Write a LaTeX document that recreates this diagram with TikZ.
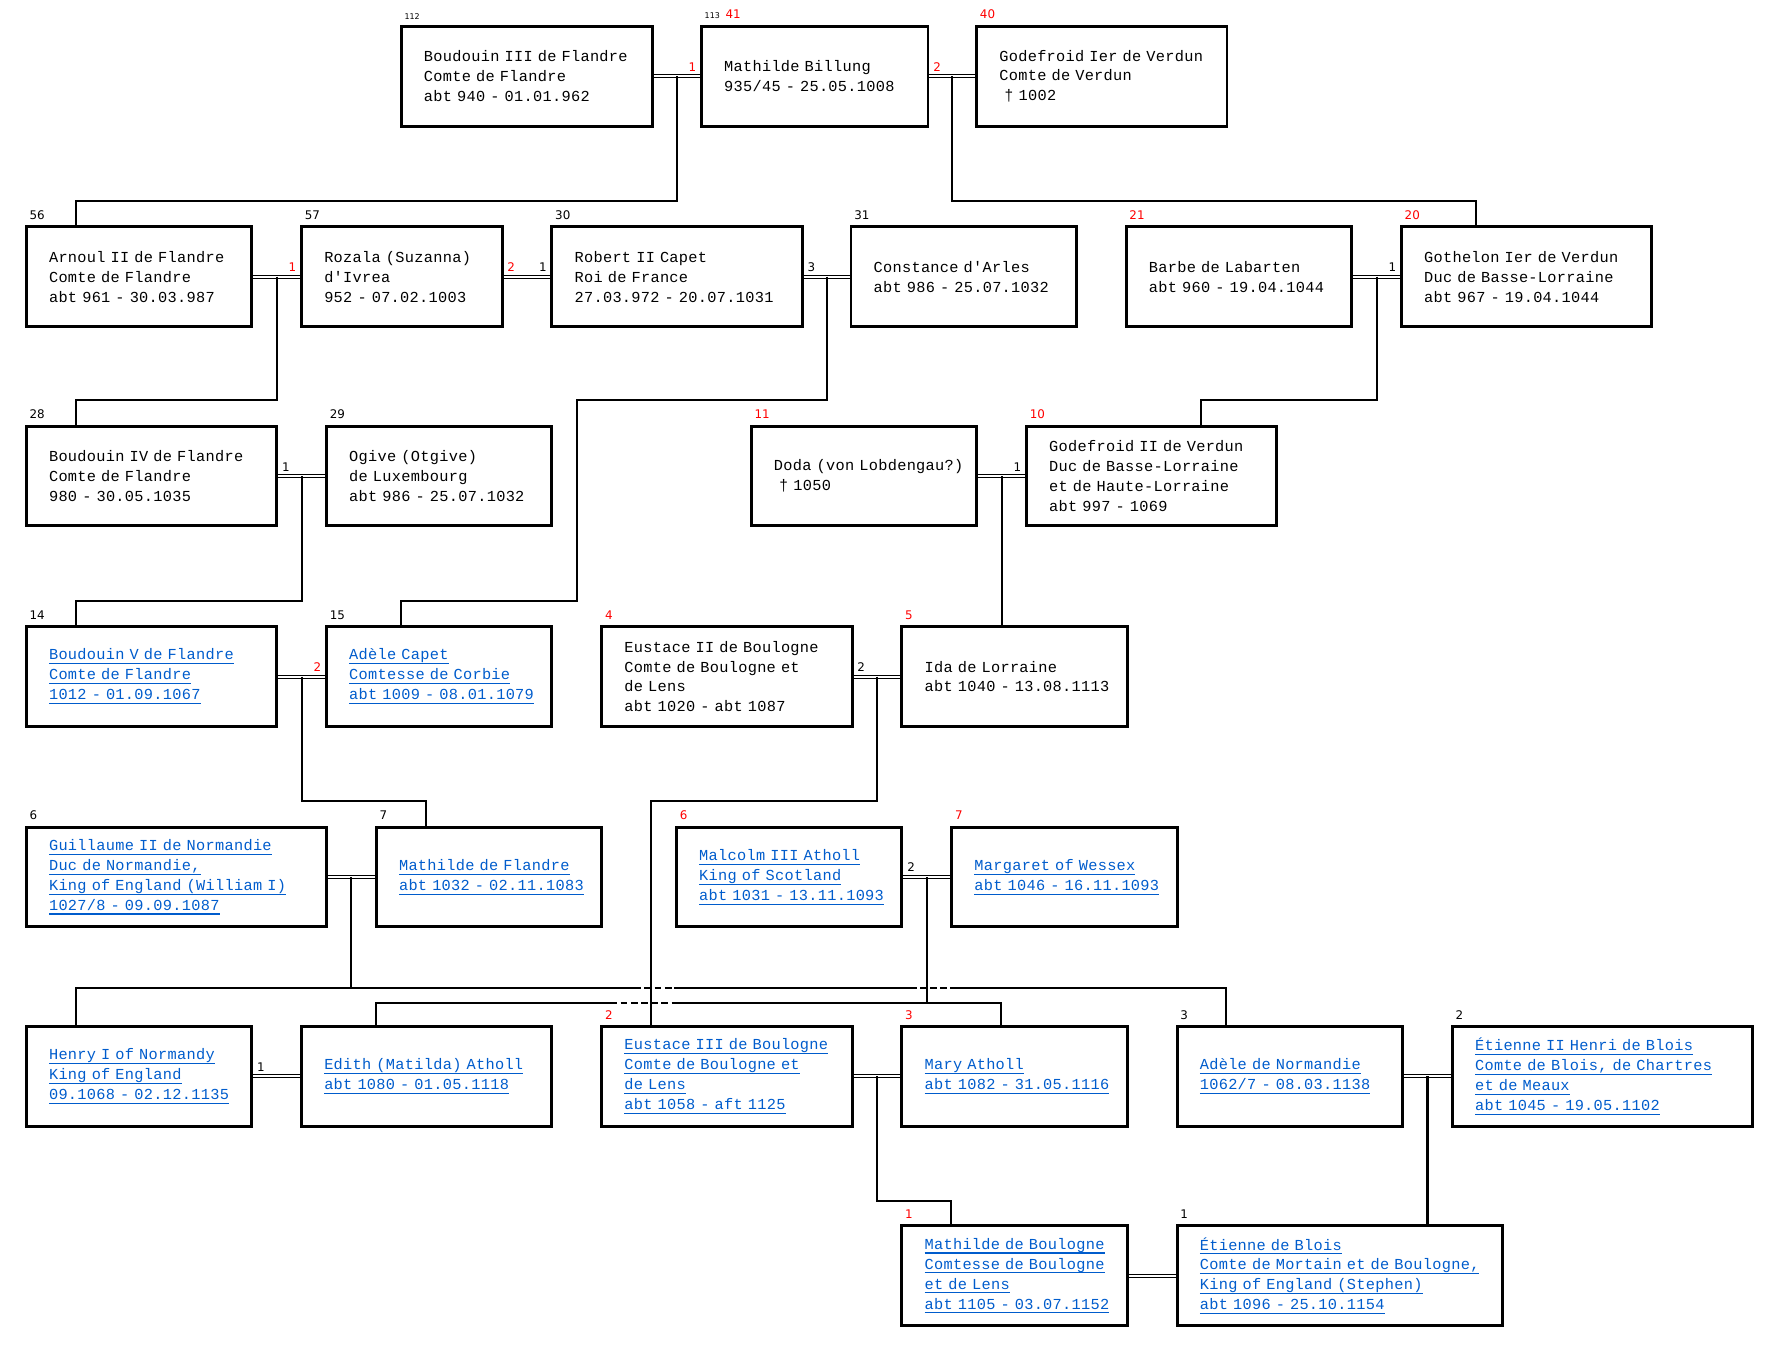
\documentclass[tikz,border=0pt]{standalone}
\usepackage{fontspec}
\newfontfamily\boxfont{Liberation Mono}[Ligatures=TeXOff, LetterSpace=2]
\newfontfamily\numfont{DejaVu Sans}
\definecolor{linkblue}{RGB}{0,92,204}
\newsavebox{\linkbox}
\newcommand{\plink}[1]{\mbox{\color{linkblue}\sbox{\linkbox}{#1}\rlap{\usebox{\linkbox}}\rule[-3.8pt]{\wd\linkbox}{1pt}}}

\begin{document}
\begin{tikzpicture}[x=1pt, y=-1pt,
    pbox/.style={draw, line width=2.6pt, anchor=north west, minimum height=88pt,
        inner xsep=20pt, inner ysep=0pt, text width=#1, align=left,
        font=\boxfont\fontsize{13.5}{17.6}\selectfont},
    num/.style={inner sep=0pt, font=\numfont\fontsize{10.5}{10.5}\selectfont},
    tag/.style={num, anchor=south west, xshift=4pt, yshift=5pt},
    rtag/.style={tag, text=red},
    lnum/.style={num, anchor=south west, xshift=3pt, yshift=4pt},
    rnum/.style={num, anchor=south east, xshift=-3pt, yshift=4pt},
    marriage/.style={double, double distance=1.8pt, line width=0.9pt},
    descent/.style={line width=1.8pt},
    hop/.style={descent, dash pattern=on 6pt off 3pt,
        preaction={draw=white, solid, line width=3.5pt}}]
    \useasboundingbox (0,0) rectangle (1568,1192);

    % 1. Thế hệ 1
    \node[pbox=182pt, label={[tag]north west:{\fontsize{7}{7}\selectfont 112}}] (boud3) at (353,22)
        {\mbox{Boudouin III de Flandre}\\Comte de Flandre\\abt 940 - 01.01.962};
    \node[pbox=160pt, label={[tag]north west:{{\fontsize{7}{7}\selectfont 113}\hspace{5pt}\textcolor{red}{41}}}] (mathb) at (618,22)
        {Mathilde Billung\\935/45 - 25.05.1008};
    \node[pbox=181pt, label={[rtag]north west:40}] (godf1) at (861,22)
        {\mbox{Godefroid Ier de Verdun}\\Comte de Verdun\\~† 1002};

    % 2. Thế hệ 2
    \node[pbox=159pt, label={[tag]north west:56}] (arnoul) at (22,199)
        {\mbox{Arnoul II de Flandre}\\Comte de Flandre\\abt 961 - 30.03.987};
    \node[pbox=137pt, label={[tag]north west:57}] (rozala) at (265,199)
        {Rozala (Suzanna)\\d'Ivrea\\952 - 07.02.1003};
    \node[pbox=181pt, label={[tag]north west:30}] (robert) at (486,199)
        {Robert II Capet\\Roi de France\\\mbox{27.03.972 - 20.07.1031}};
    \node[pbox=159pt, label={[tag]north west:31}] (constance) at (750,199)
        {Constance d'Arles\\\mbox{abt 986 - 25.07.1032}};
    \node[pbox=159pt, label={[rtag]north west:21}] (barbe) at (993,199)
        {Barbe de Labarten\\\mbox{abt 960 - 19.04.1044}};
    \node[pbox=181pt, label={[rtag]north west:20}] (gothelon) at (1236,199)
        {\mbox{Gothelon Ier de Verdun}\\\mbox{Duc de Basse-Lorraine}\\\mbox{abt 967 - 19.04.1044}};

    % 3. Thế hệ 3
    \node[pbox=181pt, label={[tag]north west:28}] (boud4) at (22,375)
        {\mbox{Boudouin IV de Flandre}\\Comte de Flandre\\980 - 30.05.1035};
    \node[pbox=159pt, label={[tag]north west:29}] (ogive) at (287,375)
        {Ogive (Otgive)\\de Luxembourg\\\mbox{abt 986 - 25.07.1032}};
    \node[pbox=159pt, label={[rtag]north west:11}] (doda) at (662,375)
        {\mbox{Doda (von Lobdengau?)}\\~† 1050};
    \node[pbox=181pt, label={[rtag]north west:10}] (godf2) at (905,375)
        {\mbox{Godefroid II de Verdun}\\\mbox{Duc de Basse-Lorraine}\\\mbox{et de Haute-Lorraine}\\abt 997 - 1069};

    % 4. Thế hệ 4
    \node[pbox=181pt, label={[tag]north west:14}] (boud5) at (22,552)
        {\plink{Boudouin V de Flandre}\\\plink{Comte de Flandre}\\\plink{1012 - 01.09.1067}};
    \node[pbox=159pt, label={[tag]north west:15}] (adelec) at (287,552)
        {\plink{Adèle Capet}\\\plink{Comtesse de Corbie}\\\plink{abt 1009 - 08.01.1079}};
    \node[pbox=181pt, label={[rtag]north west:4}] (eust2) at (530,552)
        {\mbox{Eustace II de Boulogne}\\\mbox{Comte de Boulogne et}\\de Lens\\\mbox{abt 1020 - abt 1087}};
    \node[pbox=159pt, label={[rtag]north west:5}] (ida) at (795,552)
        {Ida de Lorraine\\\mbox{abt 1040 - 13.08.1113}};

    % 5. Thế hệ 5
    \node[pbox=225pt, label={[tag]north west:6}] (guil) at (22,729)
        {\plink{Guillaume II de Normandie}\\\plink{Duc de Normandie,}\\\plink{King of England (William I)}\\\plink{1027/8 - 09.09.1087}};
    \node[pbox=159pt, label={[tag]north west:7}] (mathf) at (331,729)
        {\plink{Mathilde de Flandre}\\\plink{abt 1032 - 02.11.1083}};
    \node[pbox=159pt, label={[rtag]north west:6}] (malc) at (596,729)
        {\plink{Malcolm III Atholl}\\\plink{King of Scotland}\\\plink{abt 1031 - 13.11.1093}};
    \node[pbox=159pt, label={[rtag]north west:7}] (marg) at (839,729)
        {\plink{Margaret of Wessex}\\\plink{abt 1046 - 16.11.1093}};

    % 6. Thế hệ 6
    \node[pbox=159pt] (henry) at (22,905)
        {\plink{Henry I of Normandy}\\\plink{King of England}\\\plink{09.1068 - 02.12.1135}};
    \node[pbox=181pt] (edith) at (265,905)
        {\plink{Edith (Matilda) Atholl}\\\plink{abt 1080 - 01.05.1118}};
    \node[pbox=181pt, label={[rtag]north west:2}] (eust3) at (530,905)
        {\plink{Eustace III de Boulogne}\\\plink{Comte de Boulogne et}\\\plink{de Lens}\\\plink{abt 1058 - aft 1125}};
    \node[pbox=159pt, label={[rtag]north west:3}] (mary) at (795,905)
        {\plink{Mary Atholl}\\\plink{abt 1082 - 31.05.1116}};
    \node[pbox=159pt, label={[tag]north west:3}] (adelen) at (1038,905)
        {\plink{Adèle de Normandie}\\\plink{1062/7 - 08.03.1138}};
    \node[pbox=225pt, label={[tag]north west:2}] (etien2) at (1281,905)
        {\plink{Étienne II Henri de Blois}\\\plink{Comte de Blois, de Chartres}\\\plink{et de Meaux}\\\plink{abt 1045 - 19.05.1102}};

    % 7. Thế hệ 7
    \node[pbox=159pt, label={[rtag]north west:1}] (mathbl) at (795,1081)
        {\plink{Mathilde de Boulogne}\\\plink{Comtesse de Boulogne}\\\plink{et de Lens}\\\plink{abt 1105 - 03.07.1152}};
    \node[pbox=247pt, label={[tag]north west:1}] (etienb) at (1038,1081)
        {\plink{Étienne de Blois}\\\plink{Comte de Mortain et de Boulogne,}\\\plink{King of England (Stephen)}\\\plink{abt 1096 - 25.10.1154}};

    % 8. Hôn nhân
    \draw[marriage] (boud3.east) -- coordinate (m1) (mathb.west) node[rnum, text=red] {1};
    \draw[marriage] (mathb.east) node[lnum, text=red] {2} -- coordinate (m2) (godf1.west);
    \draw[marriage] (arnoul.east) -- coordinate (m3) (rozala.west) node[rnum, text=red] {1};
    \draw[marriage] (rozala.east) node[lnum, text=red] {2} -- (robert.west) node[rnum] {1};
    \draw[marriage] (robert.east) node[lnum] {3} -- coordinate (m4) (constance.west);
    \draw[marriage] (barbe.east) -- coordinate (m5) (gothelon.west) node[rnum] {1};
    \draw[marriage] (boud4.east) node[lnum] {1} -- coordinate (m6) (ogive.west);
    \draw[marriage] (doda.east) -- coordinate (m7) (godf2.west) node[rnum] {1};
    \draw[marriage] (boud5.east) -- coordinate (m8) (adelec.west) node[rnum, text=red] {2};
    \draw[marriage] (eust2.east) node[lnum] {2} -- coordinate (m9) (ida.west);
    \draw[marriage] (guil.east) -- coordinate (m10) (mathf.west);
    \draw[marriage] (malc.east) node[lnum] {2} -- coordinate (m11) (marg.west);
    \draw[marriage] (henry.east) node[lnum] {1} -- (edith.west);
    \draw[marriage] (eust3.east) -- coordinate (m12) (mary.west);
    \draw[marriage] (adelen.east) -- coordinate (m13) (etien2.west);
    \draw[marriage] (mathbl.east) -- (etienb.west);

    % 9. Con cái
    \draw[descent] (m1) -- ++(0,110) -| ([xshift=45pt]arnoul.north west);
    \draw[descent] (m2) -- ++(0,110) -| ([xshift=67pt]gothelon.north west);
    \draw[descent] (m3) -- ++(0,109) -| ([xshift=45pt]boud4.north west);
    \draw[descent] (m4) -- ++(0,109) -- ++(-220,0) -- ++(0,177) -| ([xshift=67pt]adelec.north west);
    \draw[descent] (m5) -- ++(0,109) -| ([xshift=155pt]godf2.north west);
    \draw[descent] (m6) -- ++(0,110) -| ([xshift=45pt]boud5.north west);
    \draw[descent] (m7) -- (m7 |- ida.north);
    \draw[descent] (m8) -- ++(0,110) -| ([xshift=45pt]mathf.north west);

    % 10. Đường ngang có chỗ giao nhau
    \path (m10) -- ++(0,98) coordinate (b10);
    \path (m11) -- ++(0,111) coordinate (b11);
    \coordinate (e3top) at ([xshift=45pt]eust3.north west);
    \draw[descent] ([xshift=45pt]henry.north west) |- (b10) -| ([xshift=44pt]adelen.north west);
    \draw[descent] ([xshift=67pt]edith.north west) |- (b11) -| ([xshift=89pt]mary.north west);
    \coordinate (c1) at (e3top |- b10);
    \coordinate (c2) at (m11 |- b10);
    \coordinate (c3) at (e3top |- b11);
    \draw[hop] ([xshift=-15pt]c1) -- ([xshift=20pt]c1);
    \draw[hop] ([xshift=-15pt]c2) -- ([xshift=20pt]c2);
    \draw[hop] ([xshift=-36pt]c3) -- ([xshift=20pt]c3);
    \draw[descent] (m10) -- (b10);
    \draw[descent] (m11) -- (b11);
    \draw[descent] (m9) -- ++(0,110) -| (e3top);
    \draw[descent] (m12) -- ++(0,110) -| ([xshift=45pt]mathbl.north west);
    \draw[descent] (m13) -- (m13 |- etienb.north);
\end{tikzpicture}
\end{document}
